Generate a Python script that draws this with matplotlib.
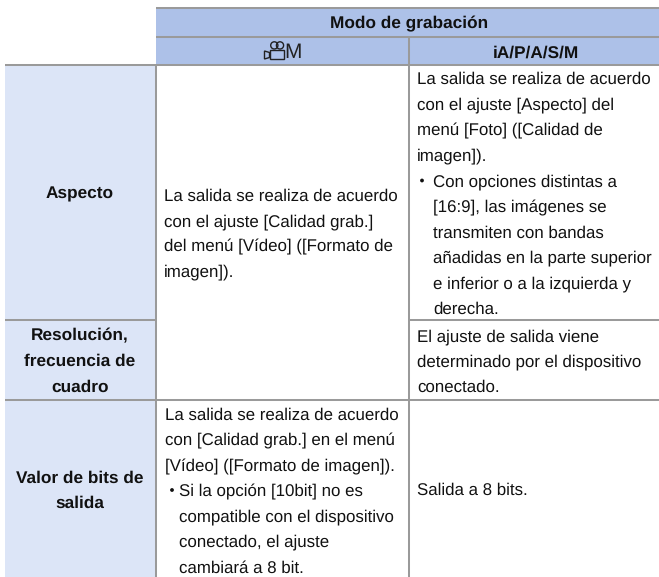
import matplotlib
matplotlib.use("Agg")
import matplotlib.pyplot as plt
from matplotlib.patches import Rectangle, Circle, Polygon

W, H = 659, 577
plt.rcParams['font.family'] = ['Liberation Sans', 'DejaVu Sans']
plt.rcParams['text.hinting'] = 'no_hinting'
plt.rcParams['text.hinting_factor'] = 8

# ---- table content ----
title = "Modo de grabación"
col_video_suffix = "M"
col_photo = "iA/P/A/S/M"
row_aspect = ["Aspecto"]
row_res = ["Resolución,", "frecuencia de", "cuadro"]
row_bits = ["Valor de bits de", "salida"]
video_merged = ["La salida se realiza de acuerdo",
                "con el ajuste [Calidad grab.]",
                "del menú [Vídeo] ([Formato de",
                "imagen])."]
photo_aspect = ["La salida se realiza de acuerdo",
                "con el ajuste [Aspecto] del",
                "menú [Foto] ([Calidad de",
                "imagen])."]
photo_aspect_bullet = ["Con opciones distintas a",
                       "[16:9], las imágenes se",
                       "transmiten con bandas",
                       "añadidas en la parte superior",
                       "e inferior o a la izquierda y",
                       "derecha."]
photo_res = ["El ajuste de salida viene",
             "determinado por el dispositivo",
             "conectado."]
video_bits = ["La salida se realiza de acuerdo",
              "con [Calidad grab.] en el menú",
              "[Vídeo] ([Formato de imagen])."]
video_bits_bullet = ["Si la opción [10bit] no es",
                     "compatible con el dispositivo",
                     "conectado, el ajuste",
                     "cambiará a 8 bit."]
photo_bits = ["Salida a 8 bits."]

# ---- layout ----
X0, X1, X2, X3 = 4.5, 155.5, 408.5, 659
Y_TOP, Y_H1, Y_H2, Y_R1, Y_R2, Y_END = 8, 37, 64.5, 320, 400, 577
HEAD = '#adc1e8'
SIDE = '#dce5f7'
LINE = '#9a9a9a'
FS = 12.2
FSB = 12.4
LH = 25.4
TXT = '#111111'

fig = plt.figure(figsize=(W / 100, H / 100), dpi=100)
ax = fig.add_axes([0, 0, 1, 1])
ax.set_xlim(0, W)
ax.set_ylim(H, 0)
ax.axis('off')

ax.add_patch(Rectangle((X1, Y_TOP), X3 - X1, Y_H2 - Y_TOP, fc=HEAD, ec='none'))
ax.add_patch(Rectangle((X0, Y_H2), X1 - X0, Y_END - Y_H2, fc=SIDE, ec='none'))

def hl(y, a, b, lw=1.45):
    ax.plot([a, b], [y, y], color=LINE, lw=lw, solid_capstyle='butt')

def vl(x, a, b, lw=1.45):
    ax.plot([x, x], [a, b], color=LINE, lw=lw, solid_capstyle='butt')

hl(Y_TOP, X1, X3)
hl(Y_H1, X1, X3)
hl(Y_H2, X0, X3)
hl(Y_R1, X0, X1)
hl(Y_R1, X2, X3)
hl(Y_R2, X0, X3)
vl(X1, Y_H2, Y_END)
vl(X2, Y_H1, Y_END)

def block(lines, x, y, size=FS, **kw):
    for i, s in enumerate(lines):
        ax.text(x, y + i * LH, s, fontsize=size, color=TXT, va='center_baseline', **kw)

def bullet(x, y):
    ax.add_patch(Circle((x, y), 1.9, fc='#111111', ec='none'))

ax.text(409, 22.5, title, fontsize=FSB, fontweight='bold', color=TXT,
        ha='center', va='center_baseline')
ax.text(535.5, 51, col_photo, fontsize=FSB, fontweight='bold', color=TXT,
        ha='center', va='center_baseline')
ax.text(293, 50.5, col_video_suffix, fontsize=15, color='#222222',
        family=['Liberation Sans Narrow', 'Liberation Sans'],
        ha='center', va='center_baseline')

# movie camera icon
ic = dict(fc='none', ec='#222222', lw=1.0)
ax.add_patch(Circle((274.3, 45.4), 3.6, **ic))
ax.add_patch(Circle((280.0, 45.4), 3.6, **ic))
ax.add_patch(Rectangle((269.5, 49.5), 14.5, 9.5, fc=HEAD, ec='#222222', lw=1.0))
ax.add_patch(Polygon([(269.5, 52.5), (264.5, 51), (264.5, 59), (269.5, 57.5)], closed=True, **ic))

cx = (X0 + X1) / 2
block(row_aspect, cx, 192, size=FSB, ha='center', fontweight='bold')
block(row_res, cx, 334.5, size=FSB, ha='center', fontweight='bold')
block(row_bits, cx, 476.5, size=FSB, ha='center', fontweight='bold')

block(video_merged, 164, 194.5, ha='left')
block(video_bits, 165, 414, ha='left')
bullet(172, 490)
block(video_bits_bullet, 179, 490, ha='left')

block(photo_aspect, 417, 78, ha='left')
bullet(422, 180.5)
block(photo_aspect_bullet, 433, 180.5, ha='left')
block(photo_res, 417, 335, ha='left')
block(photo_bits, 417, 489, ha='left')

fig.savefig('out.png', dpi=100, facecolor='white')
